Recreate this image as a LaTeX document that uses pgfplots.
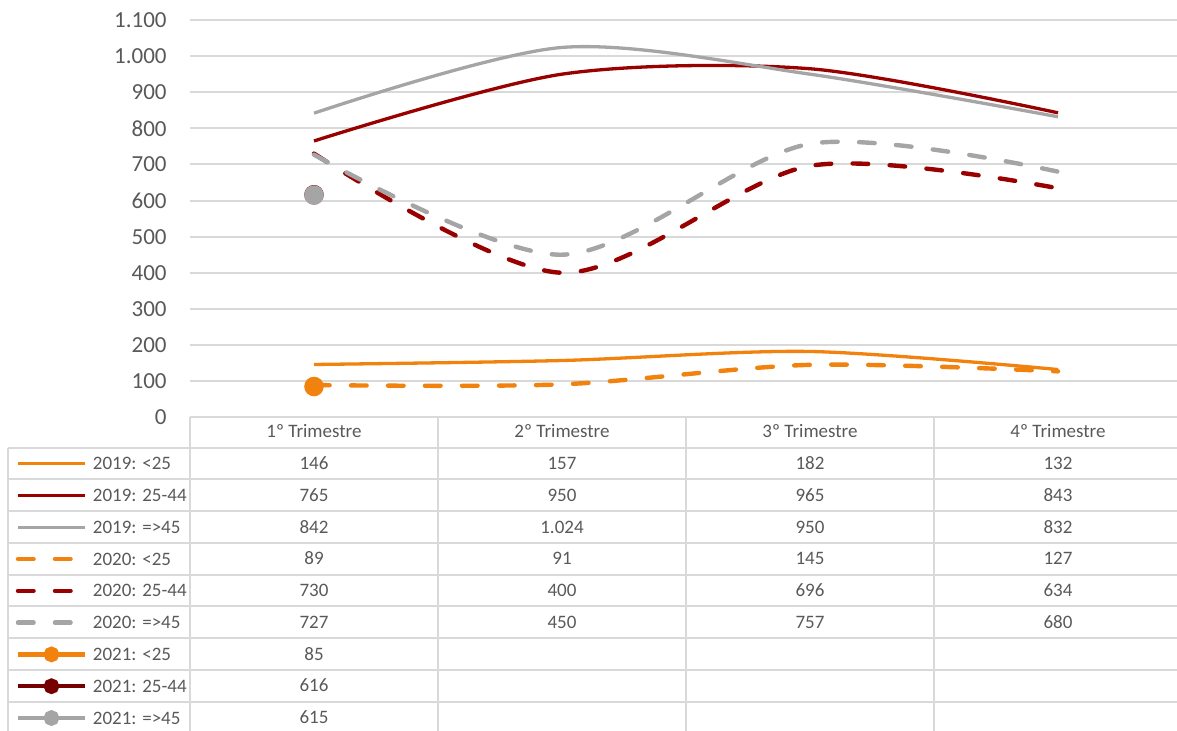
\documentclass[border=0pt]{standalone}
\usepackage{pgfplots}
\pgfplotsset{compat=1.18}
\usepackage{fontspec}
\setmainfont{Carlito}
\definecolor{cOr}{RGB}{241,130,14}
\definecolor{cRd}{RGB}{153,0,0}
\definecolor{cRdD}{RGB}{118,0,0}
\definecolor{cGy}{RGB}{165,165,165}
\definecolor{cTxt}{RGB}{89,89,89}
\definecolor{cGrid}{RGB}{217,217,217}
\begin{document}
\begin{tikzpicture}
\begin{axis}[
  at={(95pt,-208.6pt)}, anchor=south west,
  scale only axis, width=496pt, height=198.6pt,
  xmin=-0.5, xmax=3.5, ymin=0, ymax=1100,
  ytick distance=100, xtick=\empty,
  axis line style={draw=none},
  ymajorgrids, grid style={cGrid, line width=1pt},
  major tick length=0pt,
  yticklabel style={font=\fontsize{11.5}{13}\selectfont, text=cTxt, inner sep=0pt, xshift=-11.5pt},
  /pgf/number format/.cd, 1000 sep={.}, assume math mode=true, /pgfplots/.cd,
  legend style={at={(-0.1835,-0.0768)}, anchor=north west, draw=none, fill=none,
    inner sep=0pt, outer sep=0pt, row sep=0pt, column sep=0pt,
    nodes={inner sep=0pt, text height=10.95pt, text depth=4.95pt,
      font=\fontsize{9.5}{11}\selectfont, text=cTxt}},
  legend cell align=left,
  legend image code/.code={
    \path[draw=none, fill=none] (0pt,-7.95pt) rectangle (42.5pt,7.95pt);
    \draw[mark repeat=2, mark phase=2, #1] plot coordinates {(5pt,0pt)(21.75pt,0pt)(38.5pt,0pt)};
  },
  every axis plot/.append style={smooth, tension=0.5},
  dashed line/.style={line width=2.2pt, dash pattern=on 7.8pt off 10.7pt, line cap=round},
]
\addplot[cOr, line width=1.65pt] coordinates {(0,146)(1,157)(2,182)(3,132)};
\addlegendentry{2019: <25}
\addplot[cRd, line width=1.65pt] coordinates {(0,765)(1,950)(2,965)(3,843)};
\addlegendentry{2019: 25-44}
\addplot[cGy, line width=1.65pt] coordinates {(0,842)(1,1024)(2,950)(3,832)};
\addlegendentry{2019: =>45}
\addplot[cOr, dashed line] coordinates {(0,89)(1,91)(2,145)(3,127)};
\addlegendentry{2020: <25}
\addplot[cRd, dashed line] coordinates {(0,730)(1,400)(2,696)(3,634)};
\addlegendentry{2020: 25-44}
\addplot[cGy, dashed line] coordinates {(0,727)(1,450)(2,757)(3,680)};
\addlegendentry{2020: =>45}
\addplot[cOr, line width=2.25pt, mark=*, mark size=3.75pt, mark options={solid}, legend image post style={mark size=2.8pt}] coordinates {(0,85)};
\addlegendentry{2021: <25}
\addplot[cRdD, line width=2.25pt, mark=*, mark size=3.75pt, mark options={solid}, legend image post style={mark size=2.8pt}] coordinates {(0,616)};
\addlegendentry{2021: 25-44}
\addplot[cGy, line width=2.25pt, mark=*, mark size=3.75pt, mark options={solid}, legend image post style={mark size=2.8pt}] coordinates {(0,615)};
\addlegendentry{2021: =>45}
\end{axis}
\begin{scope}[x=0.5pt, y=-0.5pt]
  % table lines
  \draw[cGrid, line width=1pt] (190,417.2) -- (1182,417.2);
  \foreach \k in {0,...,9} {
    \draw[cGrid, line width=1pt] (7.7,447.7+31.75*\k) -- (1182,447.7+31.75*\k);
  }
  \draw[cGrid, line width=1pt] (7.7,447.7) -- (7.7,740);
  \foreach \xx in {190,438,686,934,1182} {
    \draw[cGrid, line width=1pt] (\xx,417.2) -- (\xx,740);
  }
  \tikzset{tt/.style={font=\fontsize{9.5}{11}\selectfont, text=cTxt, inner sep=0pt, text height=6pt, text depth=0pt}}
  \foreach \i in {1,2,3,4} {
    \node[tt] at (314+248*\i-248,432) {\i º Trimestre};
  }
  % values
  \foreach \r/\a/\b/\c/\d in {0/146/157/182/132, 1/765/950/965/843, 2/842/1.024/950/832,
      3/89/91/145/127, 4/730/400/696/634, 5/727/450/757/680} {
    \node[tt] at (314,463.6+31.75*\r) {\a};
    \node[tt] at (562,463.6+31.75*\r) {\b};
    \node[tt] at (810,463.6+31.75*\r) {\c};
    \node[tt] at (1058,463.6+31.75*\r) {\d};
  }
  \node[tt] at (314,463.6+31.75*6) {85};
  \node[tt] at (314,463.6+31.75*7) {616};
  \node[tt] at (314,463.6+31.75*8) {615};
  \pgfresetboundingbox
  \path[use as bounding box] (0,0) rectangle (1177,731);
\end{scope}
\end{tikzpicture}
\end{document}
